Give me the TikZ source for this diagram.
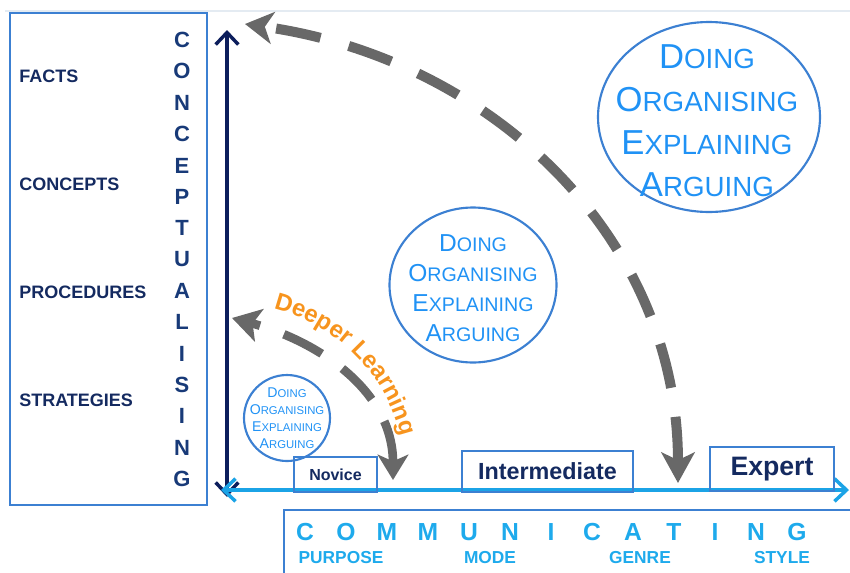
\documentclass[tikz,border=0pt]{standalone}
\usepackage{fontspec}
\setmainfont{Liberation Sans}
\usepackage{graphicx}
\usetikzlibrary{arrows.meta,shapes.geometric,decorations.text,positioning}

\definecolor{navy}{RGB}{20,42,96}
\definecolor{spine}{RGB}{24,58,120}
\definecolor{axisnavy}{RGB}{12,30,92}
\definecolor{skyline}{RGB}{27,163,230}
\definecolor{commblue}{RGB}{30,170,236}
\definecolor{frameblue}{RGB}{60,128,210}
\definecolor{skilltext}{RGB}{32,146,245}
\definecolor{arrowgray}{RGB}{104,104,104}
\definecolor{deeporange}{RGB}{247,148,30}
\definecolor{hairline}{RGB}{228,235,242}

% fake small caps as in the slide
\newcommand{\fsc}[2]{#1\scalebox{0.8}{#2}}
\newcommand{\skills}{\fsc{D}{OING}\\\fsc{O}{RGANISING}\\\fsc{E}{XPLAINING}\\\fsc{A}{RGUING}}

\tikzset{
  levelbox/.style={draw=frameblue, line width=1.2pt, inner sep=0pt, text=navy, font=\bfseries},
  skillbubble/.style={ellipse, draw=frameblue, line width=1.6pt, inner sep=0pt},
  skillwords/.style={align=center, text=skilltext, inner sep=0pt},
  dimlabel/.style={anchor=west, inner sep=0pt, text=navy, font=\fontsize{13.5}{14}\selectfont\bfseries},
  aspect/.style={text=commblue, font=\fontsize{13}{14}\selectfont\bfseries},
  axisline/.style={line width=2.6pt, {Straight Barb[length=9pt,width=17pt]}-{Straight Barb[length=9pt,width=17pt]}},
  bigarc/.style={draw=arrowgray, line width=7.5pt, dash pattern=on 34pt off 22pt,
    {Stealth[length=23pt,width=25pt,inset=6pt]}-{Stealth[length=21pt,width=24pt,inset=6pt]}},
  smallarc/.style={draw=arrowgray, line width=6.5pt, dash pattern=on 32pt off 19pt,
    {Stealth[length=19pt,width=23pt,inset=5pt]}-{Stealth[length=21pt,width=25pt,inset=5pt]}},
}

\begin{document}
\begin{tikzpicture}[x=0.75pt,y=0.75pt]
\useasboundingbox (0,0) rectangle (850,-572);
\draw[hairline, line width=0.8pt] (5,-11) -- (850,-11);

% conceptualising panel
\draw[frameblue, line width=1.2pt] (10,-13) rectangle (207,-505);
\node[dimlabel] (facts) at (19,-76) {FACTS};
\node[dimlabel] (concepts) at (19,-184) {CONCEPTS};
\node[dimlabel] (procedures) at (19,-292) {PROCEDURES};
\node[dimlabel] (strategies) at (19,-400) {STRATEGIES};
\foreach \ch [count=\i from 0] in {C,O,N,C,E,P,T,U,A,L,I,S,I,N,G}
  \node[text=spine, font=\fontsize{16.5}{17}\selectfont\bfseries] (cl\i) at (182,-40-31.36*\i) {\ch};

% axes
\coordinate (ctop) at (227,-30);
\coordinate (cbot) at (227,-497);
\coordinate (cleft) at (221,-490);
\coordinate (cright) at (849,-490);
\draw[axisnavy, axisline] (cbot) -- (ctop);
\draw[skyline, axisline] (cleft) -- (cright);

% levels
\node[levelbox, minimum width=62.25pt, minimum height=26.25pt, font=\fontsize{12}{12}\selectfont\bfseries] (novice) at (335.5,-474.5) {Novice};
\node[levelbox, minimum width=128.25pt, minimum height=30.75pt, font=\fontsize{17.5}{18}\selectfont\bfseries] (intermediate) at (547.5,-471.5) {Intermediate};
\node[levelbox, minimum width=93pt, minimum height=33pt, font=\fontsize{20}{20}\selectfont\bfseries] (expert) at (772,-469) {Expert};

% communicating panel
\draw[frameblue, line width=1.2pt] (284,-575) |- (852,-510);
\foreach \ch [count=\i from 0] in {C,O,M,M,U,N,I,C,A,T,I,N,G}
  \node[text=commblue, font=\fontsize{18.5}{19}\selectfont\bfseries] (cm\i) at (305+41*\i,-532) {\ch};
\node[aspect] (purpose) at (341,-558) {PURPOSE};
\node[aspect] (mode) at (490,-558) {MODE};
\node[aspect] (genre) at (640,-558) {GENRE};
\node[aspect] (style) at (782,-558) {STYLE};

% bubbles
\node[skillbubble, minimum width=64.5pt, minimum height=64.5pt] (smallbubble) at (287,-418) {};
\node[skillwords, font=\fontsize{10.6}{12.75}\selectfont] (smallskills) at (287,-418) {\skills};
\node[skillbubble, minimum width=125.25pt, minimum height=116.25pt] (midbubble) at (473,-285) {};
\node[skillwords, font=\fontsize{18.4}{22.5}\selectfont] (midskills) at (473,-288) {\skills};
\node[skillbubble, minimum width=166.5pt, minimum height=142.5pt] (bigbubble) at (709,-117) {};
\node[skillwords, font=\fontsize{26}{32}\selectfont] (bigskills) at (707,-121) {\skills};

% growth arrows
\coordinate (bigfoot) at (678,-483);
\coordinate (bighead) at (245,-24);
\draw[bigarc] (bigfoot) to[out=90,in=-8] (bighead);
\coordinate (smallfoot) at (393,-480);
\coordinate (smallhead) at (232,-318);
\draw[smallarc] (smallfoot) to[out=90,in=-15] (smallhead);
\path[decorate, decoration={text along path, text align=center,
  text={|\fontsize{18}{18}\selectfont\bfseries\color{deeporange}|Deeper Learning}}]
  (232,-478) ++(90:174) arc[start angle=90, end angle=0, radius=174];
\end{tikzpicture}
\end{document}
